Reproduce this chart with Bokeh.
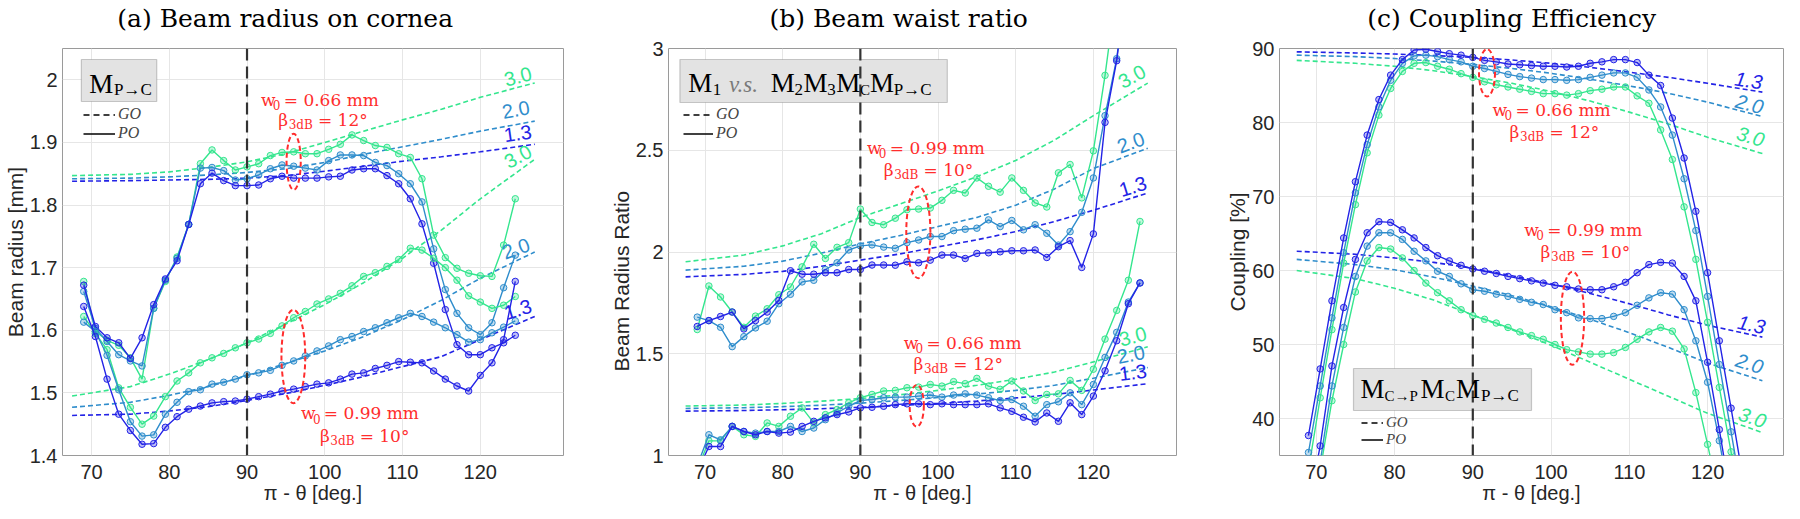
import math
from bokeh.plotting import figure
from bokeh.layouts import row
from bokeh.models import (Label, BoxAnnotation, Span, Range1d, FixedTicker, LinearAxis,
                          CustomJSTickFormatter, Legend, LegendItem)
from bokeh.embed import file_html
from bokeh.resources import INLINE

# ------------------------------------------------------------------ data
theta = [69.0, 70.5, 72.0, 73.5, 75.0, 76.5, 78.0, 79.5, 81.0, 82.5, 84.0, 85.5, 87.0,
         88.5, 90.0, 91.5, 93.0, 94.5, 96.0, 97.5, 99.0, 100.5, 102.0, 103.5, 105.0,
         106.5, 108.0, 109.5, 111.0, 112.5, 114.0, 115.5, 117.0, 118.5, 120.0, 121.5,
         123.0, 124.5, 126.0]
theta_go = [67.5, 75, 80, 85, 90, 95, 100, 105, 110, 115, 120, 127]

x_ticks = [70, 80, 90, 100, 110, 120]
a_y_ticks = [1.4, 1.5, 1.6, 1.7, 1.8, 1.9, 2.0]
b_y_ticks = [1.0, 1.5, 2.0, 2.5, 3.0]
c_y_ticks = [40, 50, 60, 70, 80, 90]

# (a) beam radius on cornea [mm]  (PO = solid with markers, GO = dashed)
a_po_w066_13 = [1.672, 1.606, 1.588, 1.580, 1.555, 1.588, 1.641, 1.682, 1.711, 1.769, 1.834, 1.851, 1.839,
                1.831, 1.831, 1.832, 1.842, 1.846, 1.843, 1.843, 1.843, 1.845, 1.846, 1.856, 1.858, 1.858,
                1.847, 1.834, 1.810, 1.770, 1.707, 1.633, 1.577, 1.561, 1.561, 1.572, 1.580, 1.592]
a_po_w066_20 = [1.662, 1.603, 1.582, 1.561, 1.551, 1.543, 1.635, 1.680, 1.715, 1.769, 1.859, 1.860, 1.855,
                1.840, 1.842, 1.848, 1.858, 1.864, 1.862, 1.859, 1.856, 1.871, 1.880, 1.880, 1.879, 1.868,
                1.863, 1.850, 1.834, 1.805, 1.730, 1.665, 1.627, 1.604, 1.593, 1.612, 1.668, 1.720]
a_po_w066_30 = [1.678, 1.598, 1.584, 1.576, 1.556, 1.522, 1.635, 1.678, 1.717, 1.769, 1.866, 1.888, 1.871,
                1.856, 1.861, 1.866, 1.879, 1.884, 1.885, 1.882, 1.882, 1.889, 1.897, 1.912, 1.903, 1.895,
                1.892, 1.882, 1.876, 1.842, 1.752, 1.716, 1.699, 1.691, 1.687, 1.686, 1.736, 1.810]
a_po_w099_13 = [1.638, 1.590, 1.522, 1.466, 1.440, 1.418, 1.419, 1.445, 1.462, 1.474, 1.479, 1.484, 1.486,
                1.487, 1.490, 1.494, 1.498, 1.503, 1.506, 1.510, 1.514, 1.516, 1.522, 1.530, 1.532, 1.539,
                1.544, 1.550, 1.549, 1.548, 1.535, 1.522, 1.511, 1.503, 1.528, 1.548, 1.585, 1.678]
a_po_w099_20 = [1.613, 1.598, 1.560, 1.505, 1.454, 1.431, 1.433, 1.466, 1.485, 1.502, 1.505, 1.514, 1.517,
                1.522, 1.529, 1.532, 1.536, 1.544, 1.551, 1.559, 1.567, 1.575, 1.585, 1.590, 1.598, 1.604,
                1.612, 1.620, 1.627, 1.622, 1.613, 1.604, 1.593, 1.581, 1.585, 1.596, 1.605, 1.615]
a_po_w099_30 = [1.622, 1.595, 1.569, 1.508, 1.477, 1.450, 1.463, 1.494, 1.519, 1.532, 1.548, 1.556, 1.563,
                1.572, 1.580, 1.586, 1.595, 1.607, 1.620, 1.630, 1.642, 1.650, 1.659, 1.671, 1.686, 1.692,
                1.702, 1.713, 1.731, 1.728, 1.715, 1.700, 1.680, 1.655, 1.645, 1.635, 1.640, 1.654]
a_go_w066_13 = [1.838, 1.839, 1.840, 1.841, 1.843, 1.847, 1.854, 1.862, 1.870, 1.877, 1.885, 1.897]
a_go_w066_20 = [1.842, 1.843, 1.845, 1.848, 1.852, 1.858, 1.868, 1.881, 1.893, 1.905, 1.918, 1.934]
a_go_w066_30 = [1.847, 1.849, 1.853, 1.860, 1.869, 1.882, 1.900, 1.918, 1.936, 1.953, 1.972, 1.995]
a_go_w099_13 = [1.464, 1.466, 1.471, 1.478, 1.488, 1.499, 1.512, 1.526, 1.542, 1.558, 1.585, 1.622]
a_go_w099_20 = [1.477, 1.485, 1.496, 1.510, 1.527, 1.547, 1.567, 1.590, 1.617, 1.648, 1.683, 1.725]
a_go_w099_30 = [1.495, 1.510, 1.530, 1.553, 1.580, 1.610, 1.641, 1.676, 1.715, 1.760, 1.810, 1.873]

# (b) beam radius ratio
b_po_w099_13 = [1.634, 1.663, 1.683, 1.705, 1.622, 1.663, 1.705, 1.762, 1.908, 1.891, 1.891, 1.898, 1.898,
                1.914, 1.914, 1.936, 1.936, 1.935, 1.952, 1.947, 1.960, 1.985, 1.985, 1.968, 1.993, 1.996,
                2.001, 2.006, 2.006, 2.010, 1.973, 2.026, 2.056, 1.924, 2.089, 2.637, 2.940, 3.400, 3.900]
b_po_w099_20 = [1.680, 1.663, 1.630, 1.535, 1.584, 1.627, 1.660, 1.746, 1.792, 1.853, 1.861, 1.914, 1.947,
                2.010, 2.030, 2.035, 2.024, 2.018, 2.046, 2.059, 2.076, 2.076, 2.105, 2.112, 2.117, 2.158,
                2.125, 2.155, 2.109, 2.134, 2.092, 2.034, 2.100, 2.195, 2.364, 2.670, 2.950, 3.400, 3.900]
b_po_w099_30 = [1.619, 1.833, 1.779, 1.705, 1.630, 1.685, 1.721, 1.790, 1.828, 1.927, 2.038, 1.968, 2.023,
                2.046, 2.211, 2.145, 2.134, 2.166, 2.208, 2.211, 2.216, 2.254, 2.303, 2.290, 2.364, 2.323,
                2.294, 2.364, 2.303, 2.241, 2.221, 2.389, 2.430, 2.266, 2.497, 2.868, 3.300, 3.800, 4.300]
b_po_w066_13 = [0.920, 1.044, 1.044, 1.143, 1.118, 1.102, 1.118, 1.110, 1.115, 1.143, 1.168, 1.185, 1.201,
                1.214, 1.234, 1.237, 1.242, 1.250, 1.254, 1.254, 1.250, 1.254, 1.250, 1.250, 1.250, 1.254,
                1.234, 1.217, 1.188, 1.165, 1.209, 1.168, 1.259, 1.201, 1.292, 1.416, 1.564, 1.746, 1.848]
b_po_w066_20 = [0.950, 1.102, 1.077, 1.143, 1.118, 1.110, 1.118, 1.118, 1.143, 1.118, 1.135, 1.176, 1.209,
                1.242, 1.270, 1.275, 1.284, 1.287, 1.287, 1.292, 1.297, 1.287, 1.297, 1.303, 1.297, 1.284,
                1.270, 1.275, 1.242, 1.193, 1.250, 1.264, 1.308, 1.250, 1.349, 1.482, 1.605, 1.754, 1.848]
b_po_w066_30 = [0.930, 1.072, 1.072, 1.143, 1.102, 1.094, 1.160, 1.143, 1.193, 1.234, 1.160, 1.201, 1.226,
                1.259, 1.284, 1.300, 1.317, 1.320, 1.333, 1.336, 1.349, 1.341, 1.363, 1.353, 1.379, 1.341,
                1.325, 1.366, 1.317, 1.270, 1.300, 1.303, 1.369, 1.320, 1.424, 1.572, 1.713, 1.861, 2.150]
b_go_w099_13 = [1.878, 1.890, 1.905, 1.930, 1.960, 1.990, 2.025, 2.060, 2.100, 2.150, 2.205, 2.290]
b_go_w099_20 = [1.911, 1.930, 1.955, 1.995, 2.040, 2.080, 2.125, 2.170, 2.230, 2.310, 2.410, 2.510]
b_go_w099_30 = [1.952, 1.985, 2.030, 2.090, 2.170, 2.235, 2.300, 2.370, 2.450, 2.550, 2.670, 2.830]
b_go_w066_13 = [1.218, 1.221, 1.225, 1.230, 1.237, 1.246, 1.256, 1.268, 1.283, 1.300, 1.322, 1.353]
b_go_w066_20 = [1.231, 1.235, 1.240, 1.247, 1.257, 1.270, 1.285, 1.302, 1.320, 1.345, 1.380, 1.432]
b_go_w066_30 = [1.243, 1.248, 1.256, 1.267, 1.280, 1.298, 1.320, 1.345, 1.375, 1.410, 1.460, 1.534]

# (c) coupling efficiency [%]
c_po_w066_13 = [37.7, 46.7, 55.9, 64.4, 72.0, 78.3, 83.1, 86.4, 88.5, 89.8, 89.9, 89.6, 89.3, 89.1, 88.8,
                88.4, 88.2, 87.9, 87.8, 87.7, 87.6, 87.6, 87.5, 87.6, 88.0, 88.2, 88.5, 88.5, 88.1, 86.4,
                85.0, 80.6, 75.2, 68.0, 59.7, 50.5, 41.4, 32.0, 23.0]
c_po_w066_20 = [35.4, 44.4, 53.6, 62.4, 70.5, 77.0, 82.1, 85.7, 88.0, 89.0, 89.1, 88.9, 88.5, 88.2, 87.6,
                87.3, 86.9, 86.5, 86.2, 86.0, 85.8, 85.8, 85.7, 85.8, 86.1, 86.4, 86.7, 86.7, 86.1, 84.4,
                82.1, 78.3, 72.4, 65.4, 56.5, 47.3, 38.2, 29.0, 20.0]
c_po_w066_30 = [33.0, 42.8, 52.0, 61.0, 68.9, 75.9, 81.0, 84.6, 86.9, 88.0, 88.1, 87.6, 87.2, 86.6, 86.1,
                85.5, 85.1, 84.8, 84.5, 84.2, 83.9, 83.9, 83.7, 83.9, 84.3, 84.5, 84.8, 84.8, 83.6, 82.6,
                79.0, 75.0, 68.6, 61.5, 53.0, 44.2, 35.5, 27.0, 19.0]
c_po_w099_13 = [28.0, 36.3, 47.1, 55.0, 61.5, 65.1, 66.6, 66.5, 65.5, 64.4, 63.1, 62.0, 61.3, 60.7, 60.2,
                59.9, 59.6, 59.2, 58.9, 58.6, 58.3, 58.0, 57.8, 57.5, 57.4, 57.4, 57.8, 58.4, 59.7, 60.8,
                61.1, 61.0, 59.2, 55.9, 47.6, 38.5, 29.0, 20.0, 12.0]
c_po_w099_20 = [26.0, 34.1, 44.4, 52.3, 59.2, 63.3, 65.1, 65.1, 64.2, 62.6, 61.3, 59.9, 59.2, 58.2, 57.4,
                57.2, 56.8, 56.5, 56.1, 55.7, 55.4, 54.7, 54.3, 53.6, 53.5, 53.5, 53.8, 54.3, 55.3, 56.3,
                57.0, 56.8, 54.7, 50.5, 44.9, 37.0, 28.0, 19.0, 11.0]
c_po_w099_30 = [24.0, 33.0, 42.4, 50.0, 57.1, 61.3, 63.1, 62.9, 61.7, 60.0, 58.3, 57.0, 55.9, 54.7, 53.9,
                53.4, 52.9, 52.3, 51.7, 51.2, 50.7, 50.0, 49.3, 49.0, 48.7, 48.7, 48.9, 49.6, 50.7, 51.7,
                52.3, 51.8, 49.4, 43.5, 36.5, 29.0, 21.0, 13.0, 6.0]
c_go_w066_13 = [89.55, 89.4, 89.25, 89.05, 88.8, 88.45, 88.0, 87.45, 86.8, 86.1, 85.3, 84.1]
c_go_w066_20 = [89.1, 88.9, 88.65, 88.3, 87.85, 87.3, 86.65, 85.85, 84.95, 83.95, 82.75, 80.8]
c_go_w066_30 = [88.4, 88.0, 87.6, 87.0, 86.2, 85.3, 84.2, 82.9, 81.4, 79.8, 78.0, 75.8]
c_go_w099_13 = [62.6, 62.2, 61.7, 61.1, 60.3, 59.3, 58.2, 56.9, 55.5, 54.0, 52.6, 51.0]
c_go_w099_20 = [61.5, 60.8, 60.1, 59.1, 57.9, 56.6, 55.1, 53.4, 51.6, 49.6, 47.5, 45.1]
c_go_w099_30 = [60.0, 58.9, 57.6, 56.0, 54.0, 52.0, 49.9, 47.6, 45.3, 43.0, 40.7, 38.1]

# ------------------------------------------------------------------ style
C13, C20, C30 = "#2323e6", "#2f8dcc", "#34e68e"
RED = "#ff2d2d"
SERIF = "DejaVu Serif"
TSERIF = "Liberation Serif"
SANS = "Liberation Sans"
NB = "\u00a0"
BORDER_TOP = 48
FRAME_H = 407
BORDER_BOTTOM = 54
FIG_H = BORDER_TOP + FRAME_H + BORDER_BOTTOM
FRAME_TOP = 52      # reference-page px of the frame top (used to place annotations)

PA = dict(page_left=8, width=606, frame_left=66, frame_w=505, xr=(66.27, 130.7), yr=(1.4, 2.05))
PB = dict(page_left=614, width=614, frame_left=672, frame_w=512, xr=(65.3, 130.7), yr=(1.0, 3.0))
PC = dict(page_left=1228, width=564, frame_left=1287, frame_w=504, xr=(65.3, 129.7), yr=(35.0, 90.0))


def X(P, px):
    x0, x1 = P["xr"]
    return x0 + (px - P["frame_left"]) * (x1 - x0) / P["frame_w"]


def Y(P, py):
    y0, y1 = P["yr"]
    return y1 - (py - FRAME_TOP) * (y1 - y0) / FRAME_H


def DX(P, d):
    return d * (P["xr"][1] - P["xr"][0]) / P["frame_w"]


def DY(P, d):
    return d * (P["yr"][1] - P["yr"][0]) / FRAME_H


def txt(p, P, px, py, s, size, font=SERIF, color="black", align="left",
        baseline="middle", style="normal", angle=0.0):
    p.add_layout(Label(x=X(P, px), y=Y(P, py), text=s, text_font=font,
                       text_font_size=f"{size}px", text_color=color, text_align=align,
                       text_baseline=baseline, text_font_style=style, angle=angle))


def make_fig(P, y_ticks, title, title_pad, ylab, ylab_pad):
    fl = P["frame_left"] - P["page_left"]
    fr = P["width"] - fl - P["frame_w"]
    p = figure(width=P["width"], height=FIG_H, x_range=Range1d(*P["xr"]),
               y_range=Range1d(*P["yr"]), output_backend="svg", toolbar_location=None,
               title=None, min_border_left=fl, min_border_right=fr,
               min_border_top=BORDER_TOP, min_border_bottom=BORDER_BOTTOM)
    p.xaxis.ticker = FixedTicker(ticks=x_ticks)
    p.yaxis.ticker = FixedTicker(ticks=y_ticks)
    p.yaxis.formatter = CustomJSTickFormatter(code="return (Math.round(tick*10)/10).toString();")
    for ax in (p.xaxis, p.yaxis):
        ax.axis_line_color = None
        ax.major_tick_line_color = None
        ax.minor_tick_line_color = None
        ax.major_tick_in = 0
        ax.major_tick_out = 0
        ax.major_label_text_font = SANS
        ax.major_label_text_font_size = "20px"
        ax.major_label_text_color = "#262626"
        ax.axis_label_text_font = SANS
        ax.axis_label_text_font_style = "normal"
        ax.axis_label_text_color = "#262626"
        ax.axis_label_standoff = 0
    p.xaxis.major_label_standoff = 9
    p.yaxis.major_label_standoff = 5
    p.xaxis.axis_label = "π - θ [deg.]"
    p.xaxis.axis_label_text_font_size = "20px"
    p.yaxis.axis_label = ylab + NB * ylab_pad
    p.yaxis.axis_label_text_font_size = "21px"
    tax = LinearAxis(ticker=FixedTicker(ticks=[]), axis_label=title + NB * title_pad,
                     axis_line_color=None, major_tick_line_color=None,
                     minor_tick_line_color=None, major_tick_in=0, major_tick_out=0,
                     major_label_standoff=0, axis_label_standoff=16,
                     axis_label_text_font=SERIF, axis_label_text_font_size="25px",
                     axis_label_text_font_style="normal", axis_label_text_color="black")
    p.add_layout(tax, "above")
    p.xgrid.grid_line_color = "#e6e6e6"
    p.ygrid.grid_line_color = "#e6e6e6"
    p.outline_line_color = "#9a9a9a"
    p.outline_line_width = 1
    p.background_fill_color = "white"
    p.border_fill_color = "white"
    return p


def draw_series(p, go_list, po_list):
    for vals, col in go_list:
        p.line(theta_go, vals, line_color=col, line_width=1.6, line_dash="5 3")
    for vals, col in po_list:
        xs = theta[:len(vals)]
        p.line(xs, vals, line_color=col, line_width=1.4)
        p.scatter(xs, vals, marker="circle", size=6.5, line_color=col, fill_color=col,
                  fill_alpha=0.3, line_width=1)


def vline(p):
    p.add_layout(Span(location=90, dimension="height", line_color="#333333",
                      line_width=2.2, line_dash="12 6"))


def legend_box(p, P, l, r, t, b):
    p.add_layout(BoxAnnotation(left=X(P, l), right=X(P, r), top=Y(P, t), bottom=Y(P, b),
                               fill_color="#e3e3e3", fill_alpha=1.0, line_color="#5a5a5a",
                               line_width=1.2))


def go_po_legend(p, vx, first_center_py, glyph_w, size=16, item_h=19):
    nan = float("nan")
    r_go = p.line(x=[nan], y=[nan], line_color="black", line_width=1.5, line_dash="6 4")
    r_po = p.line(x=[nan], y=[nan], line_color="black", line_width=1.5)
    top = first_center_py - item_h / 2
    bottom = top + 2 * item_h
    leg = Legend(items=[LegendItem(label="GO", renderers=[r_go]),
                        LegendItem(label="PO", renderers=[r_po])],
                 location=(vx, FRAME_TOP + FRAME_H - bottom), orientation="vertical",
                 glyph_width=glyph_w, glyph_height=item_h, label_height=item_h, spacing=0,
                 padding=0, margin=0, border_line_color=None, background_fill_alpha=0.0,
                 label_text_font=TSERIF, label_text_font_style="italic",
                 label_text_font_size=f"{size}px", label_standoff=3)
    p.add_layout(leg)


def red_note(p, P, wx, wy, wtext, bx, by, btext):
    # wy / by: vertical centre of the main text line
    txt(p, P, wx, wy, "w", 17, color=RED)
    txt(p, P, wx + 12, wy + 5.3, "0", 12, color=RED)
    txt(p, P, wx + 23, wy, "= " + wtext, 17, color=RED)
    txt(p, P, bx, by, "β", 17, color=RED)
    txt(p, P, bx + 10.5, by + 5.3, "3dB", 12, color=RED)
    txt(p, P, bx + 40, by, "= " + btext, 17, color=RED)


def red_ellipse(p, P, cx, cy, w, h):
    p.ellipse(x=[X(P, cx)], y=[Y(P, cy)], width=[DX(P, w)], height=[DY(P, h)],
              fill_color=None, line_color=RED, line_width=2, line_dash="5 3")


def box_text(p, P, cy, pieces):
    # cy: vertical centre of the big "M" letters
    for s, px, kind in pieces:
        if kind == "M":
            txt(p, P, px, cy, s, 27, font=TSERIF)
        elif kind == "sub":
            txt(p, P, px, cy + 6.4, s, 17, font=TSERIF)
        elif kind == "subs":
            txt(p, P, px, cy + 6.6, s, 15, font=TSERIF)
        else:
            txt(p, P, px, cy + 1.3, s, 23, font=TSERIF, color="#7a7a7a", style="italic")


def curve_labels(p, P, items, style="normal"):
    for s, col, px, py, ang in items:
        txt(p, P, px, py, s, 20, font=SANS, color=col, align="center", baseline="middle",
            style=style, angle=ang)


# ------------------------------------------------------------------ panel (a)
pa = make_fig(PA, a_y_ticks, "(a) Beam radius on cornea", 7, "Beam radius [mm]", 0)
draw_series(pa,
            [(a_go_w066_13, C13), (a_go_w066_20, C20), (a_go_w066_30, C30),
             (a_go_w099_13, C13), (a_go_w099_20, C20), (a_go_w099_30, C30)],
            [(a_po_w066_30, C30), (a_po_w066_20, C20), (a_po_w066_13, C13),
             (a_po_w099_30, C30), (a_po_w099_20, C20), (a_po_w099_13, C13)])
legend_box(pa, PA, 85, 161, 63, 105)
vline(pa)
box_text(pa, PA, 87, [("M", 93, "M"), ("P→C", 118, "sub")])
go_po_legend(pa, 87 - PA["frame_left"], 118, 32)
red_note(pa, PA, 266, 103, "0.66 mm", 283.5, 123, "12°")
red_ellipse(pa, PA, 299, 165.3, 14.3, 56)
red_note(pa, PA, 306.4, 416.7, "0.99 mm", 325.5, 439.5, "10°")
red_ellipse(pa, PA, 298.7, 360, 24, 93.4)
curve_labels(pa, PA, [("3.0", C30, 525, 80, 0.25), ("2.0", C20, 523, 113, 0.18),
                      ("1.3", C13, 525, 137, 0.14), ("3.0", C30, 525, 160, 0.5),
                      ("2.0", C20, 523, 252, 0.35), ("1.3", C13, 525, 313, 0.3)])

# ------------------------------------------------------------------ panel (b)
pb = make_fig(PB, b_y_ticks, "(b) Beam waist ratio", 6, "Beam Radius Ratio", 10)
draw_series(pb,
            [(b_go_w099_13, C13), (b_go_w099_20, C20), (b_go_w099_30, C30),
             (b_go_w066_13, C13), (b_go_w066_20, C20), (b_go_w066_30, C30)],
            [(b_po_w099_30, C30), (b_po_w099_20, C20), (b_po_w099_13, C13),
             (b_po_w066_30, C30), (b_po_w066_20, C20), (b_po_w066_13, C13)])
legend_box(pb, PB, 683.5, 953, 63, 106)
vline(pb)
box_text(pb, PB, 86.7, [("M", 692, "M"), ("1", 716.5, "sub"), ("v.s.", 733, "vs"),
                        ("M", 775, "M"), ("2", 799, "sub"), ("M", 808, "M"),
                        ("3", 832, "sub"), ("M", 841, "M"), ("C", 865, "subs"),
                        ("M", 875, "M"), ("P→C", 899, "sub")])
go_po_legend(pb, 687 - PB["frame_left"], 118, 30)
red_note(pb, PB, 872, 151.5, "0.99 mm", 889, 173, "10°")
red_ellipse(pb, PB, 923.8, 235.8, 24.3, 91.7)
red_note(pb, PB, 909, 346, "0.66 mm", 919, 367, "12°")
red_ellipse(pb, PB, 922.2, 409.2, 14.3, 41.7)
curve_labels(pb, PB, [("3.0", C30, 1139, 80, 0.5), ("2.0", C20, 1138, 146, 0.35),
                      ("1.3", C13, 1140, 190, 0.3), ("3.0", C30, 1140, 340, 0.26),
                      ("2.0", C20, 1138, 358, 0.19), ("1.3", C13, 1140, 376, 0.12)])

# ------------------------------------------------------------------ panel (c)
pc = make_fig(PC, c_y_ticks, "(c) Coupling Efficiency", 5, "Coupling [%]", 0)
draw_series(pc,
            [(c_go_w066_13, C13), (c_go_w066_20, C20), (c_go_w066_30, C30),
             (c_go_w099_13, C13), (c_go_w099_20, C20), (c_go_w099_30, C30)],
            [(c_po_w066_30, C30), (c_po_w066_20, C20), (c_po_w066_13, C13),
             (c_po_w099_30, C30), (c_po_w099_20, C20), (c_po_w099_13, C13)])
legend_box(pc, PC, 1361, 1539, 372, 414)
vline(pc)
box_text(pc, PC, 392.5, [("M", 1368, "M"), ("C→P", 1392, "subs"), ("M", 1428, "M"),
                         ("C", 1452.5, "subs"), ("M", 1463.5, "M"), ("P→C", 1488.5, "sub")])
go_po_legend(pc, 1369 - PC["frame_left"], 426.7, 22, size=15, item_h=17)
red_note(pc, PC, 1500, 113, "0.66 mm", 1517, 135, "12°")
red_ellipse(pc, PC, 1494.5, 76.3, 16, 47.3)
red_note(pc, PC, 1531.7, 233, "0.99 mm", 1548, 255, "10°")
red_ellipse(pc, PC, 1580, 321.7, 23.3, 93.3)
curve_labels(pc, PC, [("1.3", C13, 1756, 84, -0.16), ("2.0", C20, 1757, 107.5, -0.26),
                      ("3.0", C30, 1758, 140, -0.29), ("1.3", C13, 1759, 328, -0.21),
                      ("2.0", C20, 1757, 367, -0.31), ("3.0", C30, 1760, 421, -0.33)],
             style="italic")

layout = row(pa, pb, pc)
open("out.html", "w").write(file_html(layout, INLINE))
